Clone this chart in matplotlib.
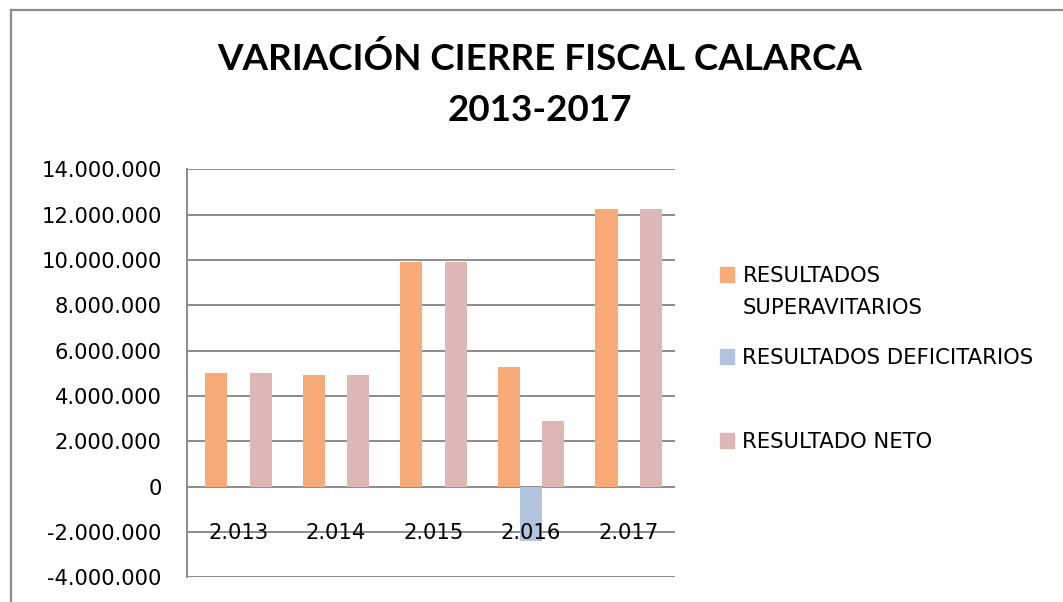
import matplotlib
matplotlib.use("Agg")
import matplotlib.pyplot as plt
import numpy as np
from matplotlib.ticker import FuncFormatter, MultipleLocator
from matplotlib.patches import Rectangle
from matplotlib.lines import Line2D

# ---- data ----
years = ["2.013", "2.014", "2.015", "2.016", "2.017"]
superavit = [5030000, 4910000, 9890000, 5280000, 12240000]
deficit = [0, 0, 0, -2390000, 0]
neto = [5030000, 4910000, 9890000, 2890000, 12240000]
series_labels = ["RESULTADOS\nSUPERAVITARIOS", "RESULTADOS DEFICITARIOS", "RESULTADO NETO"]
title = "VARIACIÓN CIERRE FISCAL CALARCA\n2013-2017"

colors = ["#F8AB79", "#B3C3DE", "#DDB6B6"]
grid_c = "#8C8C8C"

W, H = 1063, 602
fig = plt.figure(figsize=(W / 100, H / 100), dpi=100)

# chart frame (left and top edges visible)
fig.add_artist(Line2D([10.5 / W, 10.5 / W], [0, 1 - 9.5 / H], color=grid_c, lw=1.6))
fig.add_artist(Line2D([10.5 / W, 1], [1 - 9.5 / H, 1 - 9.5 / H], color=grid_c, lw=1.6))

left, right, top, bottom = 187.3, 675.0, 169.3, 577.3
ax = fig.add_axes([left / W, 1 - bottom / H, (right - left) / W, (bottom - top) / H])

x = np.arange(len(years))
w = 0.228
ax.bar(x - w, superavit, w, color=colors[0], zorder=2)
ax.bar(x, deficit, w, color=colors[1], zorder=2)
ax.bar(x + w, neto, w, color=colors[2], zorder=2)

ax.set_xlim(-0.525, 4.475)
ax.set_ylim(-4000000, 14000000)
ax.yaxis.set_major_locator(MultipleLocator(2000000))
ax.yaxis.set_major_formatter(FuncFormatter(lambda v, p: f"{int(round(v)):,}".replace(",", ".")))
ax.grid(axis="y", color=grid_c, lw=1.4, zorder=1)
ax.set_axisbelow(True)
ax.xaxis.set_zorder(3)

for s in ["top", "right"]:
    ax.spines[s].set_visible(False)
ax.spines["left"].set_color(grid_c)
ax.spines["left"].set_linewidth(1.4)
ax.spines["bottom"].set_position(("data", 0))
ax.spines["bottom"].set_visible(False)

ax.set_xticks(x)
ax.set_xticklabels(years)
ax.tick_params(axis="x", length=0, pad=26, labelsize=15.2)
ax.tick_params(axis="y", length=0, pad=18.4, labelsize=15.2)
for lab in ax.get_xticklabels() + ax.get_yticklabels():
    lab.set_fontfamily("DejaVu Sans")
    lab.set_color("black")

# title
fig.text(540 / W, 1 - 42 / H, title, ha="center", va="top", fontsize=26.5,
         fontweight="bold", family="Lato", linespacing=1.68, color="black")

# legend (manual)
sq_tops = [267, 349, 433]
for lbl, c, t in zip(series_labels, colors, sq_tops):
    fig.add_artist(Rectangle((719.5 / W, 1 - (t + 14.5) / H), 14.5 / W, 14.5 / H,
                             color=c, transform=fig.transFigure))
    fig.text(742.5 / W, 1 - (t - 1) / H, lbl, ha="left", va="top", fontsize=15.2,
             family="DejaVu Sans", linespacing=1.72, color="black")

fig.savefig("out.png", dpi=100)
